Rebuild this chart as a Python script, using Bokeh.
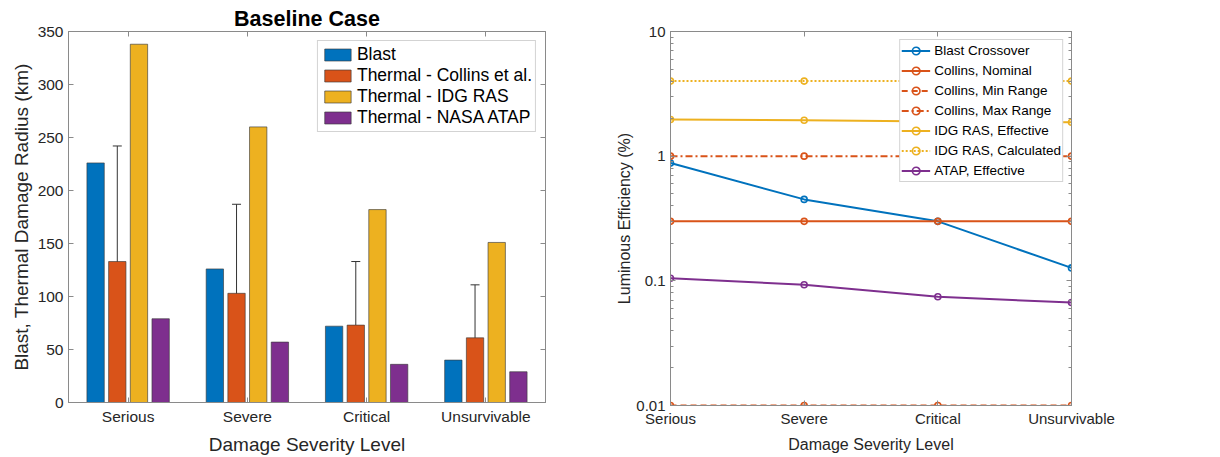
from bokeh.plotting import figure
from bokeh.models import (Range1d, FixedTicker, LinearAxis, LogAxis, Whisker, TeeHead,
                          ColumnDataSource, CustomJSTickFormatter)
from bokeh.layouts import row
from bokeh.embed import file_html
from bokeh.resources import INLINE

# ---------------- data ----------------
categories = ["Serious", "Severe", "Critical", "Unsurvivable"]

blast = [226, 126, 72, 40]
collins = [133, 103, 73, 61]
collins_lo = [24, 19, 13, 11]
collins_hi = [242, 187, 133, 111]
idg_ras = [338, 260, 182, 151]
nasa_atap = [79, 57, 36, 29]
bar_ticks = [0, 50, 100, 150, 200, 250, 300, 350]

blast_crossover = [0.88, 0.45, 0.30, 0.127]
collins_nominal = [0.3, 0.3, 0.3, 0.3]
collins_min = [0.01, 0.01, 0.01, 0.01]
collins_max = [1.0, 1.0, 1.0, 1.0]
idg_effective = [1.97, 1.94, 1.90, 1.87]
idg_calculated = [4.0, 4.0, 4.0, 4.0]
atap_effective = [0.105, 0.093, 0.0745, 0.067]
log_ticks = [0.01, 0.1, 1, 10]

BLUE, ORANGE, YELLOW, PURPLE = "#0072BD", "#D95319", "#EDB120", "#7E2F8E"
FONT = "Liberation Sans"
AX = "#8a8a8a"
TXT = "#262626"

xpos = [i + 1 for i in range(len(categories))]
labels = {x: c for x, c in zip(xpos, categories)}


def style_axis(ax, font_size, label_size):
    ax.axis_line_color = AX
    ax.major_tick_line_color = AX
    ax.minor_tick_line_color = AX
    ax.major_tick_in = 5
    ax.major_tick_out = 0
    ax.minor_tick_in = 3
    ax.minor_tick_out = 0
    ax.major_label_text_font = FONT
    ax.major_label_text_font_size = font_size
    ax.major_label_text_color = TXT
    ax.axis_label_text_font = FONT
    ax.axis_label_text_font_size = label_size
    ax.axis_label_text_font_style = "normal"
    ax.axis_label_text_color = TXT


def add_box_axes(p, xticker, yaxis_cls, yticker):
    blank = CustomJSTickFormatter(code="return '';")
    top = LinearAxis(ticker=xticker, formatter=blank)
    right = yaxis_cls(ticker=yticker, formatter=blank)
    for ax in (top, right):
        style_axis(ax, "10px", "10px")
        ax.major_label_standoff = 0
    p.add_layout(top, "above")
    p.add_layout(right, "right")


# ---------------- left: grouped bars ----------------
p1 = figure(frame_width=477, frame_height=371, output_backend="svg", toolbar_location=None,
            x_range=Range1d(0.5, 4.5), y_range=Range1d(0, 350),
            min_border_left=68, min_border_right=55, min_border_top=31, min_border_bottom=46)
p1.title.text = "Baseline Case"
p1.title.align = "center"
p1.title.text_font = FONT
p1.title.text_font_size = "21.5px"
p1.title.text_font_style = "bold"
p1.title.text_color = "black"
p1.title.standoff = 2
p1.title.offset = 0

series = [("Blast", blast, BLUE), ("Thermal - Collins et al.", collins, ORANGE),
          ("Thermal - IDG RAS", idg_ras, YELLOW), ("Thermal - NASA ATAP", nasa_atap, PURPLE)]
group_w = 0.7273
slot = group_w / len(series)
for k, (name, vals, col) in enumerate(series):
    off = -group_w / 2 + slot * (k + 0.5)
    src = ColumnDataSource(dict(x=[x + off for x in xpos], top=vals))
    p1.vbar(x="x", top="top", width=slot * 0.8, source=src, fill_color=col,
            line_color="#3a3a3a", line_width=0.8, line_alpha=0.8, legend_label=name)
    if name.startswith("Thermal - Collins"):
        wsrc = ColumnDataSource(dict(x=[x + off for x in xpos], lo=collins_lo, hi=collins_hi))
        p1.add_layout(Whisker(base="x", lower="lo", upper="hi", source=wsrc,
                              line_color="#333333", line_width=1,
                              upper_head=TeeHead(size=9, line_color="#333333", line_width=1),
                              lower_head=TeeHead(size=9, line_color="#333333", line_width=1)))

xt1 = FixedTicker(ticks=xpos)
yt1 = FixedTicker(ticks=bar_ticks)
p1.xaxis.ticker = xt1
p1.xaxis.major_label_overrides = labels
p1.yaxis.ticker = yt1
p1.xaxis.axis_label = "Damage Severity Level"
p1.yaxis.axis_label = "Blast, Thermal Damage Radius (km)"
for ax in p1.xaxis + p1.yaxis:
    style_axis(ax, "15.5px", "19px")
p1.xaxis.major_label_standoff = 5
p1.xaxis.axis_label_standoff = 6
p1.yaxis.major_label_standoff = 5
p1.yaxis.axis_label_standoff = 3
add_box_axes(p1, xt1, LinearAxis, yt1)
p1.xgrid.visible = False
p1.ygrid.visible = False
p1.outline_line_color = AX

lg = p1.legend[0]
lg.location = "top_right"
lg.margin = 9
lg.padding = 3
lg.spacing = 0
lg.label_height = 20
lg.glyph_height = 15
lg.glyph_width = 33
lg.label_standoff = 3
lg.label_text_font = FONT
lg.label_text_font_size = "17.5px"
lg.label_text_color = "black"
lg.border_line_color = "#a8a8a8"
lg.background_fill_alpha = 1

# ---------------- right: log lines ----------------
p2 = figure(frame_width=401, frame_height=374, output_backend="svg", toolbar_location=None,
            x_range=Range1d(1, 4), y_range=Range1d(0.01, 10), y_axis_type="log",
            min_border_left=70, min_border_right=139, min_border_top=31, min_border_bottom=43)

lines = [("Blast Crossover", blast_crossover, BLUE, "solid"),
         ("Collins, Nominal", collins_nominal, ORANGE, "solid"),
         ("Collins, Min Range", collins_min, ORANGE, "6 4"),
         ("Collins, Max Range", collins_max, ORANGE, "7 3 2 3"),
         ("IDG RAS, Effective", idg_effective, YELLOW, "solid"),
         ("IDG RAS, Calculated", idg_calculated, YELLOW, "2 2"),
         ("ATAP, Effective", atap_effective, PURPLE, "solid")]
for name, vals, col, dash in lines:
    p2.line(xpos, vals, line_color=col, line_width=2, line_dash=dash, legend_label=name)
    p2.scatter(xpos, vals, marker="circle", size=6, line_color=col, line_width=1.6,
               fill_alpha=0, legend_label=name)

minor = [m * 10.0 ** e for e in (-2, -1, 0) for m in range(2, 10)]
xt2 = FixedTicker(ticks=xpos)
yt2 = FixedTicker(ticks=log_ticks, minor_ticks=minor)
p2.xaxis.ticker = xt2
p2.xaxis.major_label_overrides = labels
p2.yaxis.ticker = yt2
p2.yaxis.formatter = CustomJSTickFormatter(code="return String(tick);")
p2.xaxis.axis_label = "Damage Severity Level"
p2.yaxis.axis_label = "Luminous Efficiency (%)"
for ax in p2.xaxis + p2.yaxis:
    style_axis(ax, "15px", "16px")
p2.xaxis.major_label_standoff = 4
p2.xaxis.axis_label_standoff = 6
p2.yaxis.major_label_standoff = 5
p2.yaxis.axis_label_standoff = 0
add_box_axes(p2, xt2, LogAxis, yt2)
p2.xgrid.visible = False
p2.ygrid.visible = False
p2.outline_line_color = AX

lg2 = p2.legend[0]
lg2.location = "top_right"
lg2.margin = 8
lg2.padding = 1
lg2.spacing = 1
lg2.label_height = 19
lg2.glyph_height = 19
lg2.glyph_width = 29
lg2.label_standoff = 4
lg2.label_text_font = FONT
lg2.label_text_font_size = "13.5px"
lg2.label_text_color = "black"
lg2.border_line_color = "#a8a8a8"
lg2.background_fill_alpha = 1

layout = row(p1, p2)
open("out.html", "w").write(file_html(layout, INLINE))
